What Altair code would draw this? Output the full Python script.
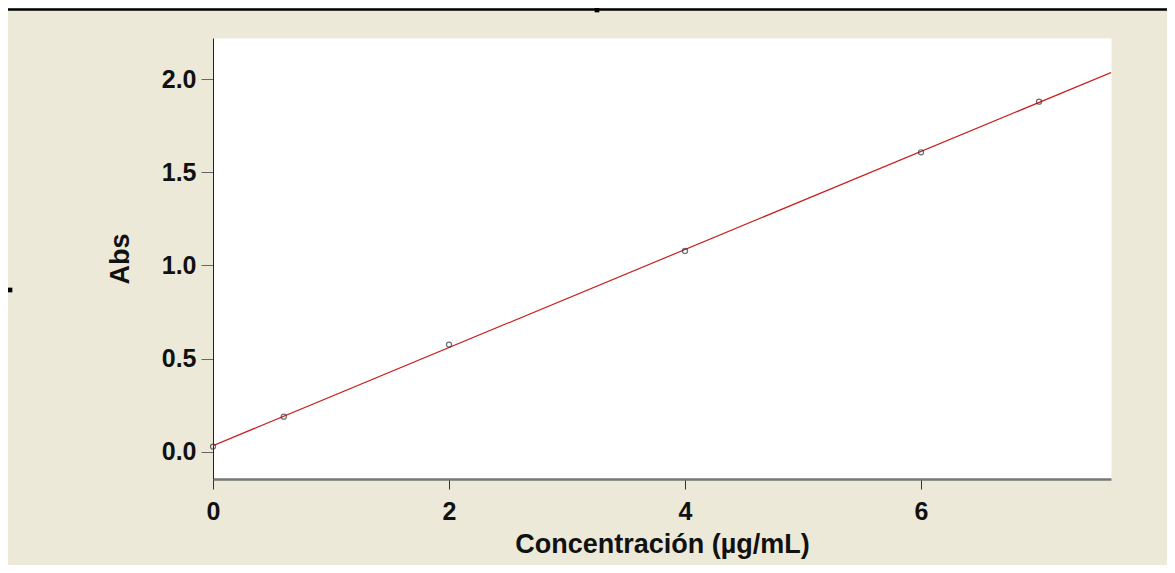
import altair as alt
import pandas as pd

# data
conc = [0, 0.6, 2, 4, 6, 7]
absorb = [0.027, 0.188, 0.575, 1.078, 1.608, 1.880]
x_ticks = [0, 2, 4, 6]
y_ticks = [0.0, 0.5, 1.0, 1.5, 2.0]
x_domain = [0, 7.61]
y_domain = [-0.147, 2.222]

df = pd.DataFrame({"conc": conc, "abs": absorb})

FONT = "Liberation Sans"

x_enc = alt.X("conc:Q", scale=alt.Scale(domain=x_domain, nice=False, zero=False),
              axis=alt.Axis(values=x_ticks, format="d", title="Concentración (µg/mL)",
                            domainColor="#777777", domainWidth=2.5,
                            tickColor="#333333", tickSize=10, tickWidth=1,
                            labelFont=FONT, labelFontSize=25, labelFontWeight="bold",
                            labelColor="#111111", labelPadding=10, labelFlush=False,
                            titleFont=FONT, titleFontSize=27, titleFontWeight="bold",
                            titleColor="#111111", titlePadding=7, grid=False))
y_enc = alt.Y("abs:Q", scale=alt.Scale(domain=y_domain, nice=False, zero=False),
              axis=alt.Axis(values=y_ticks, format=".1f", title="Abs",
                            domainColor="#222222", domainWidth=1,
                            tickColor="#666666", tickSize=12, tickWidth=1,
                            labelFont=FONT, labelFontSize=25, labelFontWeight="bold",
                            labelColor="#111111", labelPadding=5, labelFlush=False,
                            titleFont=FONT, titleFontSize=27, titleFontWeight="bold",
                            titleColor="#111111", titlePadding=27, grid=False))

base = alt.Chart(df)

fit = base.transform_regression("conc", "abs", extent=x_domain).mark_line(
    color="#C81E1E", strokeWidth=1.2, clip=True
).encode(x=x_enc, y=y_enc)

pts = base.mark_point(shape="circle", filled=False, color="#333333", size=26,
                      strokeWidth=1.2).encode(x="conc:Q", y="abs:Q")

decor_df = pd.DataFrame({"k": [0]})
top_line = alt.Chart(decor_df).mark_rule(color="#000000", strokeWidth=2.5).encode(
    x=alt.value(-205), x2=alt.value(960), y=alt.value(-28.5))
sq1 = alt.Chart(decor_df).mark_square(color="#000000", size=22, opacity=1).encode(
    x=alt.value(-203), y=alt.value(252))
sq2 = alt.Chart(decor_df).mark_square(color="#000000", size=22, opacity=1).encode(
    x=alt.value(384), y=alt.value(-28))

chart = (fit + pts + top_line + sq1 + sq2).properties(
    width=898, height=441,
    background="#ECE9D8",
    padding={"left": 205, "top": 30, "right": 56, "bottom": 86},
    autosize=alt.AutoSizeParams(type="none"),
).configure_view(fill="white", stroke="transparent")

chart.save("out.html", embed_options={"renderer": "svg", "actions": False})
